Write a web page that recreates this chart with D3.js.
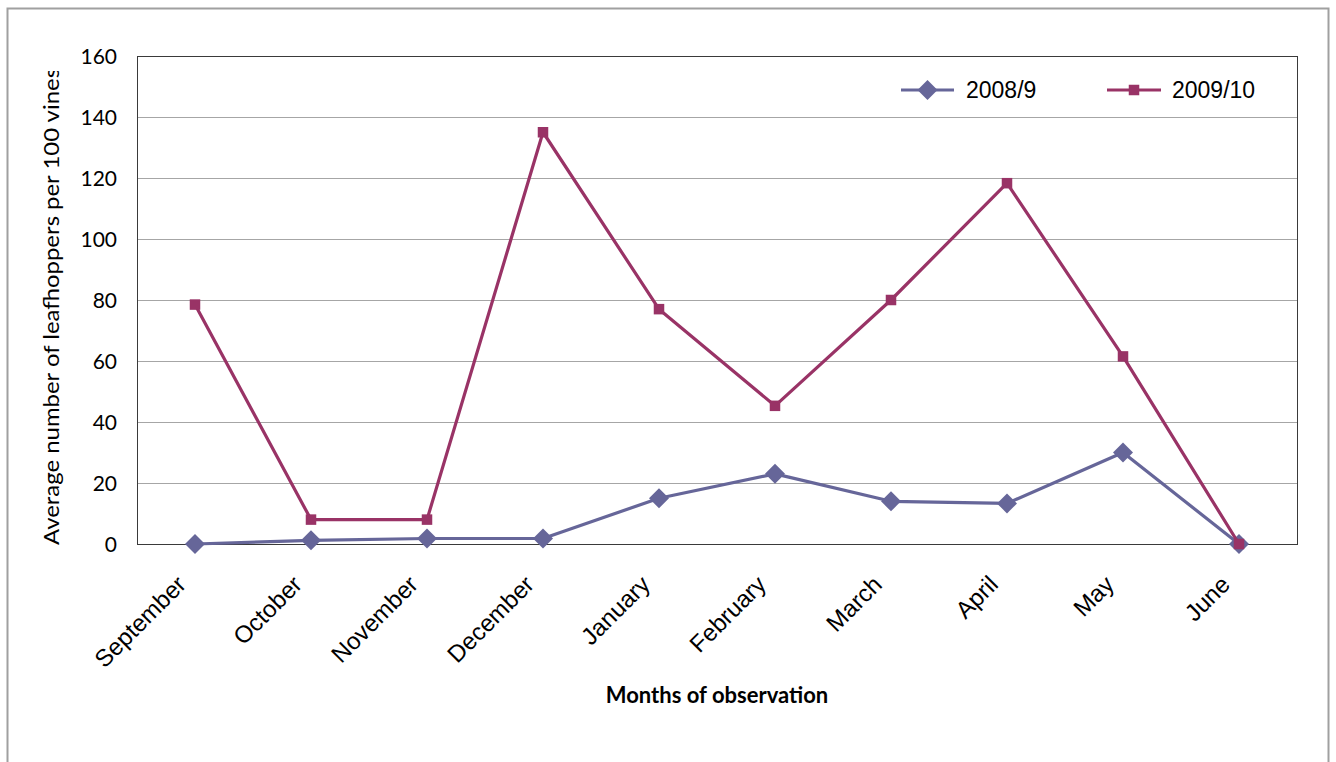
<!DOCTYPE html>
<html>
<head>
<meta charset="utf-8">
<script src="https://cdn.jsdelivr.net/npm/d3@7"></script>
<style>
  html, body { margin: 0; padding: 0; background: #fff; }
  svg { display: block; }
</style>
</head>
<body>
<svg id="chart" width="1336" height="762"></svg>
<script>
// Observation months (x axis categories)
const months = ["September", "October", "November", "December", "January",
                "February", "March", "April", "May", "June"];

// Average number of leafhoppers per 100 vines, per season
const season2008 = [0, 1.2, 1.8, 1.8, 15, 23, 14, 13.3, 30, 0];
const season2009 = [78.5, 8, 8, 135, 77, 45.3, 80, 118.3, 61.5, 0];

const seriesNames = ["2008/9", "2009/10"];
const yTicks = [0, 20, 40, 60, 80, 100, 120, 140, 160];

const svg = d3.select("#chart");
const plot = { left: 137, right: 1297, top: 56, bottom: 544 };
const colors = { "2008/9": "#666699", "2009/10": "#993366" };

// Outer frame (bottom edge runs off the canvas)
svg.append("rect")
  .attr("x", 7.5).attr("y", 8.5)
  .attr("width", 1321).attr("height", 800)
  .attr("fill", "#fff").attr("stroke", "#a0a0a0").attr("stroke-width", 2);

const x = d3.scalePoint().domain(months)
  .range([plot.left, plot.right]).padding(0.5);
const y = d3.scaleLinear().domain([0, 160])
  .range([plot.bottom, plot.top]);

// Horizontal gridlines
svg.append("g")
  .selectAll("line")
  .data(yTicks)
  .join("line")
  .attr("x1", plot.left).attr("x2", plot.right)
  .attr("y1", d => Math.round(y(d)) + 0.5).attr("y2", d => Math.round(y(d)) + 0.5)
  .attr("stroke", "#a6a6a6").attr("stroke-width", 1);

// Plot frame
svg.append("rect")
  .attr("x", plot.left + 0.5).attr("y", plot.top + 0.5)
  .attr("width", plot.right - plot.left).attr("height", plot.bottom - plot.top)
  .attr("fill", "none").attr("stroke", "#3a3a3a").attr("stroke-width", 1);

// Y axis tick labels
const yAxis = d3.axisLeft(y).tickValues(yTicks).tickSize(0).tickPadding(20);
const gy = svg.append("g").attr("transform", `translate(${plot.left},0)`).call(yAxis);
gy.select(".domain").remove();
gy.selectAll("text")
  .attr("font-family", "Lato, 'Open Sans', sans-serif")
  .attr("font-size", 21).attr("fill", "#000").attr("dy", "0.36em");

// X axis labels rotated -45°
const xAxis = d3.axisBottom(x).tickSize(0).tickPadding(0);
const gx = svg.append("g").attr("transform", `translate(0,${plot.bottom})`).call(xAxis);
gx.select(".domain").remove();
gx.selectAll("text")
  .attr("font-family", "'Liberation Sans', Arial, sans-serif")
  .attr("font-size", 24).attr("fill", "#000")
  .attr("text-anchor", "end")
  .attr("dy", null).attr("y", 0)
  .attr("transform", "translate(-8,42) rotate(-45)");

// Axis titles (y title runs past the plot top and is cut there)
svg.append("defs").append("clipPath").attr("id", "yclip")
  .append("rect").attr("x", 0).attr("y", 71).attr("width", 130).attr("height", 600);

svg.append("g").attr("clip-path", "url(#yclip)")
  .append("text")
  .attr("transform", "translate(59,545) rotate(-90)")
  .attr("font-family", "Lato, 'Open Sans', sans-serif")
  .attr("font-size", 22).attr("fill", "#000")
  .attr("textLength", 477).attr("lengthAdjust", "spacingAndGlyphs")
  .text("Average number of leafhoppers per 100 vines");

svg.append("text")
  .attr("x", 717).attr("y", 703)
  .attr("text-anchor", "middle")
  .attr("font-family", "Lato, 'Open Sans', sans-serif")
  .attr("font-weight", "bold")
  .attr("font-size", 22).attr("fill", "#000")
  .text("Months of observation");

// Series
const series = [
  { name: "2008/9", values: season2008, marker: "diamond" },
  { name: "2009/10", values: season2009, marker: "square" }
];

const line = d3.line().x((d, i) => x(months[i])).y(d => y(d));

function drawMarker(g, kind, cx, cy, color) {
  if (kind === "diamond") {
    const r = 10;
    g.append("path")
      .attr("d", `M${cx},${cy - r}L${cx + r},${cy}L${cx},${cy + r}L${cx - r},${cy}Z`)
      .attr("fill", color);
  } else {
    const s = 10.5;
    g.append("rect")
      .attr("x", cx - s / 2).attr("y", cy - s / 2)
      .attr("width", s).attr("height", s)
      .attr("fill", color);
  }
}

series.forEach(s => {
  const g = svg.append("g");
  g.append("path")
    .datum(s.values)
    .attr("d", line)
    .attr("fill", "none")
    .attr("stroke", colors[s.name])
    .attr("stroke-width", 3.2)
    .attr("stroke-linejoin", "round");
  s.values.forEach((v, i) => drawMarker(g, s.marker, x(months[i]), y(v), colors[s.name]));
});

// Legend
const legendPos = [
  { x1: 901, x2: 954, tx: 966 },
  { x1: 1107, x2: 1161, tx: 1172 }
];
series.forEach((s, i) => {
  const p = legendPos[i];
  const g = svg.append("g");
  g.append("line")
    .attr("x1", p.x1).attr("x2", p.x2).attr("y1", 90).attr("y2", 90)
    .attr("stroke", colors[s.name]).attr("stroke-width", 3.2);
  drawMarker(g, s.marker, (p.x1 + p.x2) / 2, 90, colors[s.name]);
  g.append("text")
    .attr("x", p.tx).attr("y", 98)
    .attr("font-family", "'Liberation Sans', Arial, sans-serif")
    .attr("font-size", 23).attr("fill", "#000")
    .text(s.name);
});
</script>
</body>
</html>
